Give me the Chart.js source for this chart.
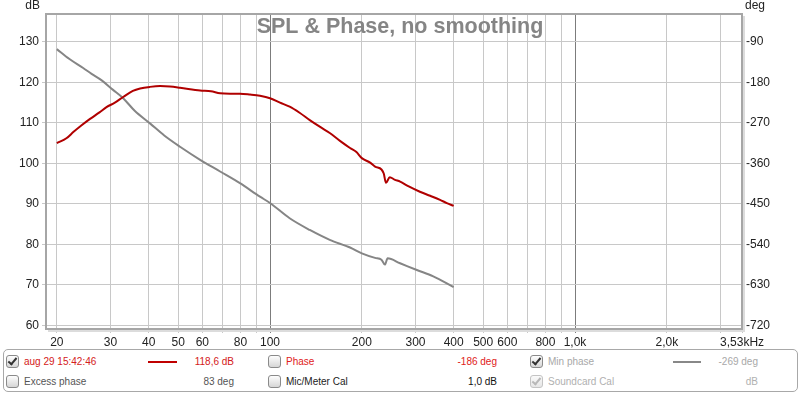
<!DOCTYPE html>
<html>
<head>
<meta charset="utf-8">
<script src="https://cdn.jsdelivr.net/npm/chart.js@4"></script>
<style>
  body { margin: 0; background: #fff; width: 800px; height: 394px; overflow: hidden;
         font-family: "Liberation Sans", Arial, sans-serif; }
  #wrap { position: absolute; left: 0; top: 0; width: 800px; height: 348px; }
  #legend { position: absolute; left: 3px; top: 349px; width: 793px; height: 41px;
            border: 1px solid #a8a8a8; border-radius: 5px; }
  .it { position: absolute; font-size: 10px; line-height: 12px; white-space: nowrap; }
  .r { text-align: right; }
  .cb { position: absolute; width: 11px; height: 11px; border: 1px solid #8a8a8a; border-radius: 3px;
        background: linear-gradient(#fdfdfd, #d6d6d6); }
  .cb.on::after { content: ""; position: absolute; left: 3px; top: 0px; width: 3px; height: 7px;
        border-right: 2px solid #333; border-bottom: 2px solid #333; transform: rotate(40deg); }
  .cb.dis { border-color: #c4c4c4; background: linear-gradient(#fafafa, #e6e6e6); }
  .cb.dis::after { border-color: #b8b8b8; }
  .ln { position: absolute; height: 2px; }
</style>
</head>
<body>
<div id="wrap"><canvas id="splChart" width="800" height="348"></canvas></div>

<div id="legend"></div>
<!-- row 1 -->
<div class="cb on" style="left:6px;top:355px"></div>
<div class="it" style="left:24px;top:356px;color:#d42020">aug 29 15:42:46</div>
<div class="ln" style="left:148px;top:361px;width:29px;background:#c00000"></div>
<div class="it r" style="left:170px;top:356px;width:64px;color:#d42020">118,6 dB</div>
<div class="cb" style="left:268px;top:355px"></div>
<div class="it" style="left:286px;top:356px;color:#e02020">Phase</div>
<div class="it r" style="left:420px;top:356px;width:77px;color:#e02020">-186 deg</div>
<div class="cb on" style="left:530px;top:355px"></div>
<div class="it" style="left:548px;top:356px;color:#a8a8a8">Min phase</div>
<div class="ln" style="left:673px;top:361px;width:28px;background:#888"></div>
<div class="it r" style="left:700px;top:356px;width:58px;color:#a8a8a8">-269 deg</div>
<!-- row 2 -->
<div class="cb" style="left:6px;top:375px"></div>
<div class="it" style="left:24px;top:376px;color:#555">Excess phase</div>
<div class="it r" style="left:170px;top:376px;width:64px;color:#555">83 deg</div>
<div class="cb" style="left:268px;top:375px"></div>
<div class="it" style="left:286px;top:376px;color:#222">Mic/Meter Cal</div>
<div class="it r" style="left:420px;top:376px;width:77px;color:#111">1,0 dB</div>
<div class="cb on dis" style="left:530px;top:375px"></div>
<div class="it" style="left:548px;top:376px;color:#b0b0b0">Soundcard Cal</div>
<div class="it r" style="left:700px;top:376px;width:58px;color:#b0b0b0">dB</div>

<script>
// SPL trace (dB, left axis)
const splFreq = [20, 21.5, 22.7, 24, 25.7, 27.6, 29.1, 31, 33, 35.5, 37.5, 40.4, 43.6, 47, 50.7,
  59, 64, 68.6, 74, 79.7, 86, 92.7, 100, 107.8, 116, 125, 135, 146, 157, 170, 183, 192, 200,
  213, 221, 232, 236, 240, 247, 256, 267, 285, 310, 335, 361, 380, 400];
const splDb = [105.0, 106.2, 107.8, 109.3, 111.0, 112.6, 113.9, 115.0, 116.4, 117.9, 118.5, 118.9, 119.1, 119.0, 118.7,
  118.0, 117.8, 117.3, 117.2, 117.2, 117.0, 116.7, 116.1, 115.0, 114.0, 112.5, 110.7, 109.0, 107.5, 105.5, 103.8, 102.8, 101.3,
  100.2, 99.2, 98.5, 97.5, 95.2, 96.6, 96.0, 95.5, 94.3, 93.0, 92.0, 91.0, 90.2, 89.5];

// Min phase trace (deg, right axis)
const phaseFreq = [20, 22, 24.4, 26, 28, 30.5, 33, 36, 40.4, 45, 50.7, 59, 68.6, 79.7, 92.7, 100,
  116, 135, 157, 183, 200, 221, 232, 238, 243, 267, 303, 343, 400];
const phaseDeg = [-106, -128, -148, -161, -175, -196, -215, -243, -271, -298, -323, -352, -378, -404, -434, -448,
  -482, -508, -530, -547, -560, -570, -574, -585, -571, -582, -597, -611, -635];

// axes
const xTicks = [20, 30, 40, 50, 60, 70, 80, 90, 100, 200, 300, 400, 500, 600, 700, 800, 900, 1000, 2000, 3000, 3530];
const xTickLabels = ["20", "30", "40", "50", "60", "", "80", "", "100", "200", "300", "400", "500", "600", "", "800", "", "1,0k", "2,0k", "", "3,53kHz"];
const dbTicks = [60, 70, 80, 90, 100, 110, 120, 130];
const degTicks = [-720, -630, -540, -450, -360, -270, -180, -90];
const titleText = "SPL & Phase, no smoothing";

const FONT = '"Liberation Sans", Arial, sans-serif';

const framePlugin = {
  id: "framePlugin",
  beforeDatasetsDraw(chart) {
    const ctx = chart.ctx;
    ctx.save();
    ctx.font = "bold 21.5px " + FONT;
    ctx.fillStyle = "#858585";
    ctx.textAlign = "center";
    ctx.textBaseline = "alphabetic";
    ctx.fillText(titleText, 400, 33);
    ctx.restore();
  },
  afterDraw(chart) {
    const ctx = chart.ctx;
    const a = chart.chartArea;
    ctx.save();
    // soft shadow, then the frame
    ctx.strokeStyle = "#dcdcdc";
    ctx.lineWidth = 2;
    ctx.beginPath();
    ctx.moveTo(a.right + 2, a.top + 2);
    ctx.lineTo(a.right + 2, a.bottom + 2);
    ctx.lineTo(a.left + 2, a.bottom + 2);
    ctx.stroke();
    ctx.strokeStyle = "#a6a6a6";
    ctx.lineWidth = 2;
    ctx.strokeRect(a.left, a.top, a.right - a.left, a.bottom - a.top);
    // axis units
    ctx.font = "12px " + FONT;
    ctx.fillStyle = "#222";
    ctx.textBaseline = "middle";
    ctx.textAlign = "right";
    ctx.fillText("dB", 40, 6);
    ctx.textAlign = "left";
    ctx.fillText("deg", 745, 6);
    ctx.restore();
  }
};

(function(){
  const el = document.getElementById("splChart");
  if (!el) return;
  new Chart(el.getContext("2d"), {
    type: "line",
    data: {
      datasets: [
        {
          label: "aug 29 15:42:46",
          data: splFreq.map((f, i) => ({ x: f, y: splDb[i] })),
          yAxisID: "y",
          borderColor: "#b00000",
          borderWidth: 2,
          pointRadius: 0,
          cubicInterpolationMode: "monotone"
        },
        {
          label: "Min phase",
          data: phaseFreq.map((f, i) => ({ x: f, y: phaseDeg[i] })),
          yAxisID: "y2",
          borderColor: "#858585",
          borderWidth: 2,
          pointRadius: 0,
          cubicInterpolationMode: "monotone"
        }
      ]
    },
    options: {
      responsive: false,
      animation: false,
      layout: { padding: { top: 14, left: 0, right: 0, bottom: 0 } },
      plugins: { legend: { display: false }, tooltip: { enabled: false } },
      scales: {
        x: {
          type: "logarithmic",
          min: 18.43,
          max: 3528,
          afterBuildTicks: (s) => { s.ticks = xTicks.map(v => ({ value: v })); },
          afterFit: (s) => { s.height = 19; },
          border: { display: false },
          grid: {
            color: (c) => (c.tick && (c.tick.value === 100 || c.tick.value === 1000)) ? "#7c7c7c" : "#c8c8c8",
            tickLength: 4
          },
          ticks: {
            autoSkip: false,
            maxRotation: 0,
            padding: 2,
            color: "#222",
            font: { family: FONT, size: 12 },
            callback: (v, i) => xTickLabels[i]
          }
        },
        y: {
          position: "left",
          min: 59.1,
          max: 136.9,
          afterBuildTicks: (s) => { s.ticks = dbTicks.map(v => ({ value: v })); },
          afterFit: (s) => { s.width = 46; },
          border: { display: false },
          grid: { color: "#c8c8c8", tickLength: 4 },
          ticks: { padding: 3, color: "#222", font: { family: FONT, size: 12 } }
        },
        y2: {
          position: "right",
          min: -728.1,
          max: -27.9,
          afterBuildTicks: (s) => { s.ticks = degTicks.map(v => ({ value: v })); },
          afterFit: (s) => { s.width = 58; },
          border: { display: false },
          grid: { drawOnChartArea: false, color: "#b0b0b0", tickLength: 3 },
          ticks: { padding: 1, color: "#222", font: { family: FONT, size: 12 } }
        }
      }
    },
    plugins: [framePlugin]
  });
})();
</script>
</body>
</html>
